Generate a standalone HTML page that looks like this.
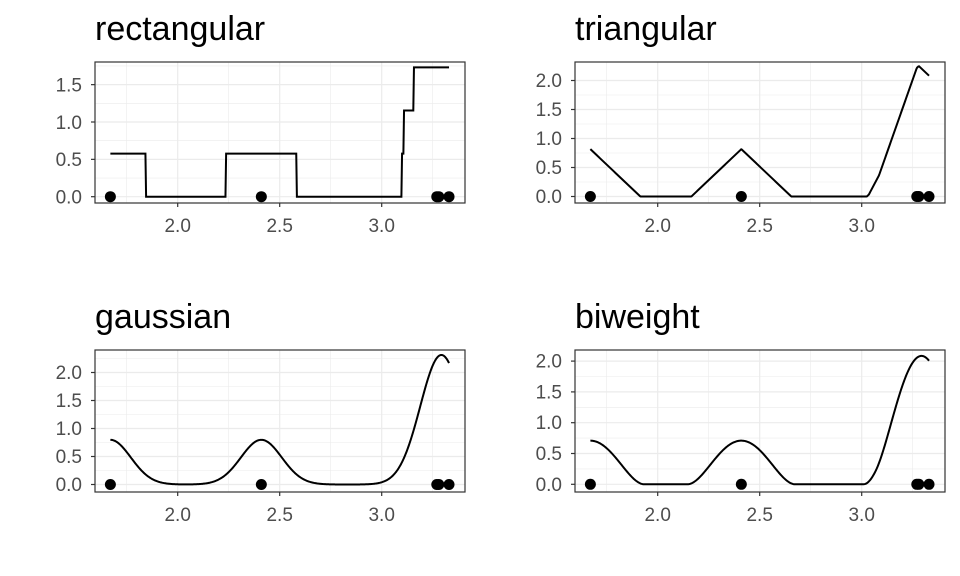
<!DOCTYPE html>
<html><head><meta charset="utf-8"><style>body{margin:0;background:#fff}svg{display:block}</style></head>
<body>
<svg id="s" width="960" height="576" xmlns="http://www.w3.org/2000/svg" font-family="Liberation Sans, sans-serif">
<rect width="960" height="576" fill="#fff"/>
<g id="g"></g>
<text x="95" y="40" font-size="34" fill="#000">rectangular</text>
<text x="575" y="40" font-size="34" fill="#000">triangular</text>
<text x="95" y="328" font-size="34" fill="#000">gaussian</text>
<text x="575" y="328" font-size="34" fill="#000">biweight</text>
<g font-size="19" fill="#4d4d4d" text-anchor="end">
<text x="82" y="203.5">0.0</text><text x="82" y="166">0.5</text><text x="82" y="129">1.0</text><text x="82" y="91.5">1.5</text>
<text x="562" y="203">0.0</text><text x="562" y="174">0.5</text><text x="562" y="145">1.0</text><text x="562" y="116">1.5</text><text x="562" y="87">2.0</text>
<text x="82" y="491">0.0</text><text x="82" y="463">0.5</text><text x="82" y="435">1.0</text><text x="82" y="407">1.5</text><text x="82" y="379">2.0</text>
<text x="562" y="491">0.0</text><text x="562" y="460">0.5</text><text x="562" y="429">1.0</text><text x="562" y="398.5">1.5</text><text x="562" y="367.5">2.0</text>
</g>
<g font-size="19" fill="#4d4d4d" text-anchor="middle">
<text x="177.7" y="232">2.0</text><text x="279.7" y="232">2.5</text><text x="381.7" y="232">3.0</text>
<text x="657.7" y="232">2.0</text><text x="759.7" y="232">2.5</text><text x="861.7" y="232">3.0</text>
<text x="177.7" y="521">2.0</text><text x="279.7" y="521">2.5</text><text x="381.7" y="521">3.0</text>
<text x="657.7" y="521">2.0</text><text x="759.7" y="521">2.5</text><text x="861.7" y="521">3.0</text>
</g>
</svg>
<script>
var pts=[1.67,2.41,3.27,3.28,3.33],bw=0.1,n=5;
function K(t,u){u=Math.abs(u);
 if(t==0){var a=bw*Math.sqrt(3);return u<a?1/(2*a):0;}
 if(t==1){var a=bw*Math.sqrt(6);return u<a?(1-u/a)/a:0;}
 if(t==2){return Math.exp(-u*u/(2*bw*bw))/(bw*Math.sqrt(2*Math.PI));}
 var a=bw*Math.sqrt(7);if(u>=a)return 0;var v=u/a;return 15/16*(1-v*v)*(1-v*v)/a;}
var P=[{ox:0,top:62,bot:203,y0:196.7,s:74.7,ymaj:[0,0.5,1,1.5],ymin:[0.25,0.75,1.25,1.75]},
 {ox:480,top:62,bot:203,y0:196.5,s:58,ymaj:[0,0.5,1,1.5,2],ymin:[0.25,0.75,1.25,1.75]},
 {ox:0,top:350,bot:492,y0:484.5,s:56,ymaj:[0,0.5,1,1.5,2],ymin:[0.25,0.75,1.25,1.75,2.25]},
 {ox:480,top:350,bot:492,y0:484.3,s:61.6,ymaj:[0,0.5,1,1.5,2],ymin:[0.25,0.75,1.25,1.75]}];
var h='';
P.forEach(function(p,t){
 var L=95+p.ox,R=465+p.ox;function X(x){return 177.7+p.ox+(x-2)*204;}function Y(y){return p.y0-y*p.s;}
 p.ymin.forEach(function(y){var yy=Y(y);if(yy>p.top&&yy<p.bot)h+='<line x1="'+L+'" x2="'+R+'" y1="'+yy+'" y2="'+yy+'" stroke="#ebebeb" stroke-width="0.6"/>';});
 [1.75,2.25,2.75,3.25].forEach(function(x){h+='<line x1="'+X(x)+'" x2="'+X(x)+'" y1="'+p.top+'" y2="'+p.bot+'" stroke="#ebebeb" stroke-width="0.6"/>';});
 p.ymaj.forEach(function(y){var yy=Y(y);h+='<line x1="'+L+'" x2="'+R+'" y1="'+yy+'" y2="'+yy+'" stroke="#ebebeb" stroke-width="1.2"/><line x1="'+(L-4)+'" x2="'+L+'" y1="'+yy+'" y2="'+yy+'" stroke="#333" stroke-width="1.2"/>';});
 [2,2.5,3].forEach(function(x){h+='<line x1="'+X(x)+'" x2="'+X(x)+'" y1="'+p.top+'" y2="'+p.bot+'" stroke="#ebebeb" stroke-width="1.2"/><line x1="'+X(x)+'" x2="'+X(x)+'" y1="'+p.bot+'" y2="'+(p.bot+4)+'" stroke="#333" stroke-width="1.2"/>';});
 var d='';for(var i=0;i<=512;i++){var x=1.67+(3.33-1.67)*i/512,s=0;pts.forEach(function(q){s+=K(t,x-q);});s/=n;d+=(i?'L':'M')+X(x).toFixed(2)+' '+Y(s).toFixed(2);}
 h+='<path d="'+d+'" fill="none" stroke="#000" stroke-width="2"/>';
 pts.forEach(function(q){h+='<circle cx="'+X(q)+'" cy="'+Y(0)+'" r="5.5" fill="#000"/>';});
 h+='<rect x="'+L+'" y="'+p.top+'" width="'+(R-L)+'" height="'+(p.bot-p.top)+'" fill="none" stroke="#333" stroke-width="1.2"/>';
});
document.getElementById('g').innerHTML=h;
</script>
</body></html>
